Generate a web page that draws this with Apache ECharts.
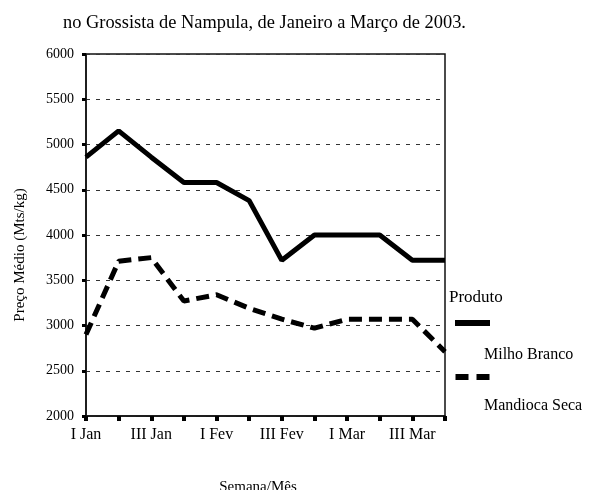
<!DOCTYPE html>
<html>
<head>
<meta charset="utf-8">
<script src="https://cdn.jsdelivr.net/npm/echarts@6/dist/echarts.min.js"></script>
<style>
  html, body { margin: 0; padding: 0; background: #fff; }
  #main { width: 592px; height: 490px; }
</style>
</head>
<body>
<div id="main"></div>
<script>
// semanas de Janeiro a Março
var semanas = ['I Jan', 'II Jan', 'III Jan', 'IV Jan', 'I Fev', 'II Fev', 'III Fev', 'IV Fev', 'I Mar', 'II Mar', 'III Mar', 'IV Mar'];
// preço médio (Mts/kg)
var milhoBranco = [4860, 5150, 4860, 4580, 4580, 4380, 3720, 4000, 4000, 4000, 3720, 3720];
var mandiocaSeca = [2900, 3710, 3750, 3270, 3340, 3190, 3070, 2970, 3070, 3070, 3070, 2710];
var nomes = ['Milho Branco', 'Mandioca Seca'];

var fonte = 'Liberation Serif';
var myChart = echarts.init(document.getElementById('main'));

myChart.setOption({
    animation: false,
    title: {
        text: 'no Grossista de Nampula, de Janeiro a Março de 2003.',
        left: 63,
        top: 14,
        padding: 0,
        textStyle: { fontFamily: fonte, fontSize: 18.4, fontWeight: 'normal', color: '#000' }
    },
    grid: {
        left: 86, right: 147, top: 54, bottom: 74,
        outerBoundsMode: 'none',
        show: true,
        borderColor: '#111',
        borderWidth: 1.5
    },
    legend: {
        orient: 'vertical',
        left: 455,
        top: 320,
        padding: 0,
        itemWidth: 35,
        itemHeight: 6,
        itemGap: 48,
        selectedMode: false,
        formatter: function () { return ''; },
        data: [
            { name: nomes[0], icon: 'rect' },
            { name: nomes[1], icon: 'path://M0,0H13V6H0Z M21,0H34V6H21Z' }
        ]
    },
    graphic: [
        { type: 'text', left: 449, top: 289, style: { text: 'Produto', font: '17px ' + fonte, fill: '#000' } },
        { type: 'text', left: 484, top: 347, style: { text: nomes[0], font: '16px ' + fonte, fill: '#000' } },
        { type: 'text', left: 484, top: 398, style: { text: nomes[1], font: '16px ' + fonte, fill: '#000' } }
    ],
    xAxis: {
        type: 'category',
        data: semanas,
        boundaryGap: false,
        name: 'Semana/Mês',
        nameLocation: 'middle',
        nameGap: 64,
        nameTextStyle: { fontFamily: fonte, fontSize: 15, color: '#000', padding: [0, 15, 0, 0] },
        axisLine: { lineStyle: { color: '#111', width: 1.5 } },
        axisTick: { show: true, interval: 0, length: 5, lineStyle: { color: '#000', width: 4 } },
        axisLabel: { interval: 1, margin: 11, fontFamily: fonte, fontSize: 16, color: '#000' },
        splitLine: { show: false }
    },
    yAxis: {
        type: 'value',
        min: 2000,
        max: 6000,
        interval: 500,
        name: 'Preço Médio (Mts/kg)',
        nameLocation: 'middle',
        nameGap: 58,
        nameTextStyle: { fontFamily: fonte, fontSize: 15, color: '#000', padding: [0, 40, 0, 0] },
        axisLine: { show: true, lineStyle: { color: '#111', width: 1.5 } },
        axisTick: { show: true, length: 4, lineStyle: { color: '#000', width: 3 } },
        axisLabel: {
            margin: 12, fontFamily: fonte, fontSize: 14, color: '#000',
            formatter: function (v) { return String(v); }
        },
        splitLine: { show: true, lineStyle: { color: '#333', width: 1.2, type: [4, 6] } }
    },
    series: [
        {
            name: nomes[0],
            type: 'line',
            data: milhoBranco,
            symbol: 'none',
            color: '#000',
            lineStyle: { color: '#000', width: 5 }
        },
        {
            name: nomes[1],
            type: 'line',
            data: mandiocaSeca,
            symbol: 'none',
            color: '#000',
            lineStyle: { color: '#000', width: 5, type: [13, 7] }
        }
    ]
});
</script>
</body>
</html>
